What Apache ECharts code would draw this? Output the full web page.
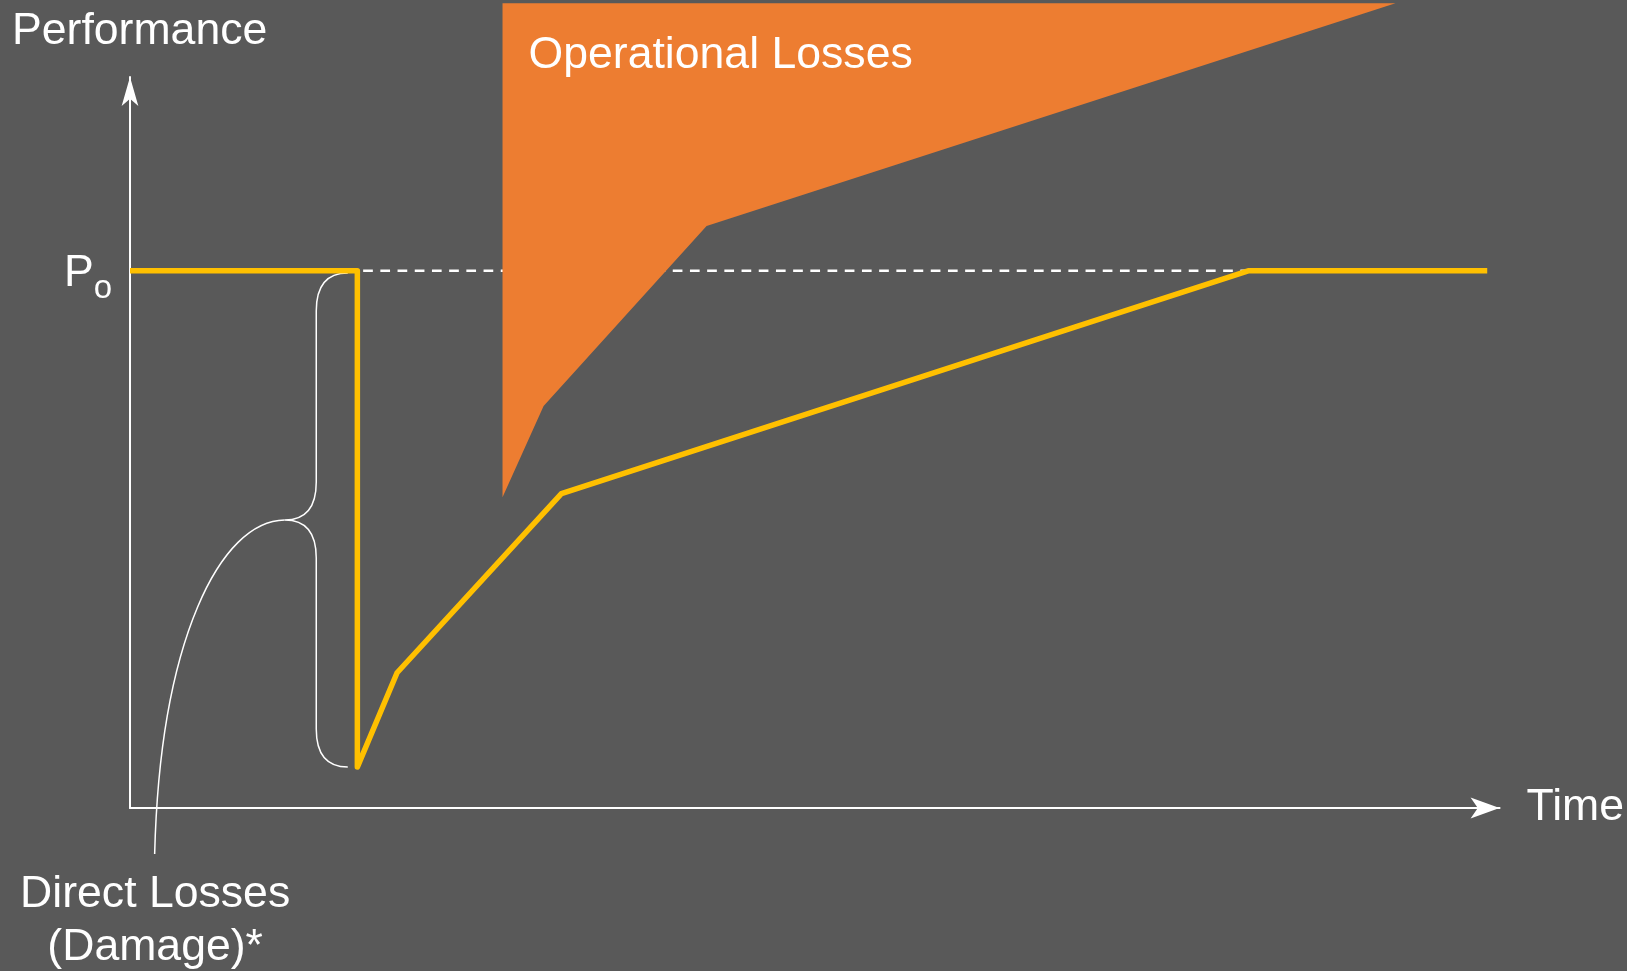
<!DOCTYPE html>
<html>
<head>
<meta charset="utf-8">
<title>Performance over time</title>
<script src="https://cdn.jsdelivr.net/npm/echarts@6/dist/echarts.min.js"></script>
<style>
  html, body { margin: 0; padding: 0; background: #595959; }
  #chart { width: 1627px; height: 971px; }
</style>
</head>
<body>
<div id="chart"></div>
<script>
// Baseline performance level
const PO = 73.5;

// Performance trajectory: steady state, sudden drop, staged recovery
const timeValues = [0, 16.6, 16.6, 19.5, 31.5, 81.7, 99.1];
const perfValues = [73.5, 73.5, 5.6, 18.5, 43.0, 73.5, 73.5];

// Baseline reference drawn dashed between the drop and full recovery
const refTime = [16.6, 81.7];
const refPerf = [73.5, 73.5];

// Outline of the operational losses region
const lossTime = [27.2, 92.4, 42.1, 30.2, 27.2];
const lossPerf = [110.1, 110.1, 79.6, 55.0, 42.5];

// Brace over the drop: [end, spine, tip] times and [top, bottom] levels
const braceTime = [15.9, 13.6, 11.3];
const bracePerf = [73.2, 5.6];

// Leader from the brace tip down to its caption (cubic Bézier points)
const leaderTime = [11.3, 6.6, 2.2, 1.8];
const leaderPerf = [39.4, 39.3, 23.0, -6.3];

// Texts
const axisNames = { x: 'Time', y: 'Performance' };
const levelLabel = { main: 'P', sub: 'o' };
const captions = { loss: 'Operational Losses', damage: 'Direct Losses\n(Damage)*' };

const FONT = "'Liberation Sans', Arial, sans-serif";
const FS = 44.6;
const WHITE = '#ffffff';
const ORANGE = '#ED7D31';
const YELLOW = '#FFC000';

const chart = echarts.init(document.getElementById('chart'), null, { renderer: 'canvas' });

const pairs = (xs, ys) => xs.map((x, i) => [x, ys[i]]);

const option = {
  backgroundColor: '#595959',
  animation: false,
  grid: { left: 130, right: 127, top: 77, bottom: 163, containLabel: false },
  xAxis: {
    type: 'value',
    min: 0,
    max: 100,
    name: axisNames.x,
    nameLocation: 'end',
    nameGap: 27,
    nameTextStyle: { color: WHITE, fontSize: FS, fontFamily: FONT, padding: [0, 0, 4, 0] },
    axisLine: {
      show: true,
      onZero: false,
      symbol: ['none', 'arrow'],
      symbolSize: [15.75, 29],
      lineStyle: { color: WHITE, width: 2 }
    },
    axisTick: { show: false },
    axisLabel: { show: false },
    splitLine: { show: false }
  },
  yAxis: {
    type: 'value',
    min: 0,
    max: 100,
    axisLine: {
      show: true,
      onZero: false,
      symbol: ['none', 'arrow'],
      symbolSize: [12.5, 29],
      lineStyle: { color: WHITE, width: 2 }
    },
    axisTick: { show: false },
    splitLine: { show: false },
    axisLabel: {
      show: true,
      customValues: [PO],
      margin: 18,
      padding: [6, 0, 0, 0],
      formatter: v => (Math.abs(v - PO) < 1e-6 ? '{p|' + levelLabel.main + '}{s|' + levelLabel.sub + '}' : ''),
      rich: {
        p: { fontSize: FS, lineHeight: 44, color: WHITE, fontFamily: FONT, verticalAlign: 'middle' },
        s: { fontSize: 33, height: 13, lineHeight: 13, color: WHITE, fontFamily: FONT, verticalAlign: 'bottom' }
      }
    }
  },
  graphic: [
    {
      type: 'text',
      x: 12,
      y: 32,
      silent: true,
      style: {
        text: axisNames.y,
        fill: WHITE,
        fontSize: FS,
        fontFamily: FONT,
        align: 'left',
        verticalAlign: 'middle'
      }
    }
  ],
  series: [
    {
      name: 'reference',
      type: 'line',
      z: 1,
      silent: true,
      symbol: 'none',
      data: pairs(refTime, refPerf),
      lineStyle: { color: WHITE, width: 2.4, type: [9.7, 7.5], dashOffset: 11.4 }
    },
    {
      name: 'operational losses',
      type: 'custom',
      z: 2,
      silent: true,
      clip: false,
      data: [[lossTime[0], lossPerf[0]]],
      renderItem: (params, api) => {
        const pts = lossTime.map((t, i) => api.coord([t, lossPerf[i]]));
        return {
          type: 'group',
          children: [
            { type: 'polygon', shape: { points: pts }, style: { fill: ORANGE } },
            {
              type: 'text',
              x: pts[0][0] + 26,
              y: pts[0][1] + 53,
              style: {
                text: captions.loss,
                fill: WHITE,
                fontSize: FS,
                fontFamily: FONT,
                align: 'left',
                verticalAlign: 'middle'
              }
            }
          ]
        };
      }
    },
    {
      name: 'direct losses',
      type: 'custom',
      z: 2,
      silent: true,
      clip: false,
      data: [[braceTime[0], bracePerf[0]]],
      renderItem: (params, api) => {
        const [xe, xs, xt] = braceTime.map(t => api.coord([t, 0])[0]);
        const yt = api.coord([0, bracePerf[0]])[1];
        const yb = api.coord([0, bracePerf[1]])[1];
        const ym = (yt + yb) / 2;
        const R = 38;
        const brace =
          `M${xe},${yt} Q${xs},${yt} ${xs},${yt + R} L${xs},${ym - R} ` +
          `Q${xs},${ym} ${xt},${ym} Q${xs},${ym} ${xs},${ym + R} ` +
          `L${xs},${yb - R} Q${xs},${yb} ${xe},${yb}`;
        const lp = leaderTime.map((t, i) => api.coord([t, leaderPerf[i]]));
        const leader =
          `M${lp[0][0]},${lp[0][1]} C${lp[1][0]},${lp[1][1]} ${lp[2][0]},${lp[2][1]} ${lp[3][0]},${lp[3][1]}`;
        const stroke = { fill: 'none', stroke: WHITE, lineWidth: 1.5 };
        return {
          type: 'group',
          children: [
            { type: 'path', shape: { pathData: brace }, style: stroke },
            { type: 'path', shape: { pathData: leader }, style: stroke },
            {
              type: 'text',
              x: lp[3][0] + 0.5,
              y: lp[3][1] + 14,
              style: {
                text: captions.damage,
                fill: WHITE,
                fontSize: FS,
                lineHeight: 53,
                fontFamily: FONT,
                align: 'center',
                verticalAlign: 'top'
              }
            }
          ]
        };
      }
    },
    {
      name: 'performance',
      type: 'line',
      z: 3,
      silent: true,
      symbol: 'none',
      data: pairs(timeValues, perfValues),
      lineStyle: { color: YELLOW, width: 5.5, join: 'round', cap: 'butt' }
    }
  ]
};

chart.setOption(option);
</script>
</body>
</html>
